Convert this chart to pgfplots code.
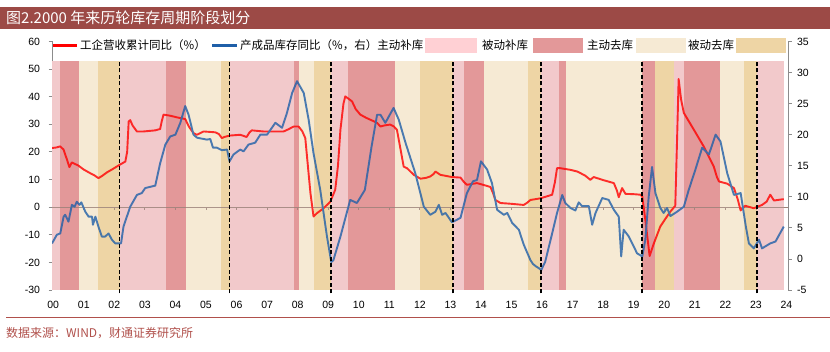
\documentclass[border=0pt]{standalone}
\usepackage{pgfplots}
\pgfplotsset{compat=1.18}
\usepackage{fontspec}
\setmainfont{Liberation Sans}
\newfontfamily\cjk{Noto Sans CJK SC}
\definecolor{bP}{HTML}{F2C9CB}
\definecolor{bD}{HTML}{E39899}
\definecolor{bC}{HTML}{F6EAD4}
\definecolor{bT}{HTML}{EED5A5}
\definecolor{lP}{HTML}{FFD0D4}
\definecolor{titlebar}{HTML}{9C4A46}
\definecolor{srcred}{HTML}{B0504B}
\definecolor{zline}{HTML}{9A8078}
\definecolor{axgray}{HTML}{8C8C8C}
\definecolor{bluel}{HTML}{1F5FA8}
\definecolor{legred}{HTML}{FF0000}
\newcommand{\band}[4]{\addplot[draw=none,fill=#3,forget plot,#4] coordinates {(#1,-30)(#1,53)(#2,53)(#2,-30)} -- cycle;}
\newcommand{\allbands}[1]{%
\band{-0.04}{0.21}{bP}{#1}\band{0.21}{0.85}{bD}{#1}\band{0.85}{1.48}{bC}{#1}\band{1.48}{2.17}{bT}{#1}%
\band{2.17}{3.70}{bP}{#1}\band{3.70}{4.33}{bD}{#1}\band{4.33}{5.50}{bC}{#1}\band{5.50}{5.77}{bT}{#1}%
\band{5.77}{7.87}{bP}{#1}\band{7.87}{8.06}{bD}{#1}\band{8.06}{8.52}{bC}{#1}\band{8.52}{9.10}{bT}{#1}%
\band{9.10}{9.65}{bP}{#1}\band{9.65}{11.20}{bD}{#1}\band{11.20}{12.02}{bC}{#1}\band{12.02}{13.09}{bT}{#1}%
\band{13.09}{13.43}{bP}{#1}\band{13.43}{14.09}{bD}{#1}\band{14.09}{15.53}{bC}{#1}\band{15.53}{15.97}{bT}{#1}%
\band{15.97}{16.57}{bP}{#1}\band{16.57}{16.79}{bD}{#1}\band{16.79}{19.28}{bC}{#1}\band{19.28}{19.68}{bD}{#1}%
\band{19.68}{20.31}{bT}{#1}\band{20.31}{20.66}{bP}{#1}\band{20.66}{21.84}{bD}{#1}\band{21.84}{22.60}{bC}{#1}%
\band{22.60}{23.04}{bT}{#1}\band{23.04}{23.91}{bP}{#1}}
\pgfplotsset{base/.style={scale only axis, width=736bp, height=248.6bp, xmin=-0.04, xmax=24.05,
  at={(52bp,-290bp)}, anchor=south west}}
\begin{document}
\begin{tikzpicture}[x=1bp,y=1bp]
\useasboundingbox (0,0) rectangle (830,-351);
\fill[titlebar] (0,-7) rectangle (830,-29);
\node[anchor=west, text=white, inner sep=0pt, font=\cjk\fontsize{15bp}{15bp}\selectfont] at (6,-18) {图2.2000 年来历轮库存周期阶段划分};
\draw[srcred, line width=1bp] (6,-317) -- (830,-317);
\node[anchor=west, text=srcred, inner sep=0pt, font=\cjk\fontsize{12bp}{12bp}\selectfont] at (6,-333) {数据来源：WIND，财通证券研究所};

\begin{axis}[base, ymin=-30, ymax=60,
  axis y line*=left, axis x line*=bottom,
  x axis line style={draw=none}, xtick style={draw=none},
  xtick={0,...,24},
  xticklabels={00,01,02,03,04,05,06,07,08,09,10,11,12,13,14,15,16,17,18,19,20,21,22,23,24},
  ytick={-30,-20,...,60},
  y axis line style={axgray, line width=0.8bp},
  ytick style={axgray, line width=0.8bp},
  tick align=outside, major tick length=3.5bp,
  ticklabel style={font=\fontsize{10.5bp}{12bp}\selectfont},
  xticklabel style={yshift=-4bp},
  yticklabel style={xshift=-5bp},
  /pgf/number format/assume math mode=true]
\allbands{}
\addplot[zline, line width=0.8bp, forget plot] coordinates {(-0.04,0)(24.05,0)};
\addplot[zline, ycomb, line width=0.8bp, forget plot] coordinates {(1,-1.2)(2,-1.2)(3,-1.2)(4,-1.2)(5,-1.2)(6,-1.2)(7,-1.2)(8,-1.2)(9,-1.2)(10,-1.2)(11,-1.2)(12,-1.2)(13,-1.2)(14,-1.2)(15,-1.2)(16,-1.2)(17,-1.2)(18,-1.2)(19,-1.2)(20,-1.2)(21,-1.2)(22,-1.2)(23,-1.2)};
\addplot[red, line width=1.9bp, line join=round] coordinates {
(-0.04,21.4)(0.1,21.6)(0.23,22)(0.34,20.8)(0.45,17.2)(0.53,14.5)(0.61,16.2)(0.83,15)(1.0,13.6)(1.21,12.3)(1.35,11.5)(1.48,10.5)(1.6,11.3)(1.76,12.6)(1.95,13.8)(2.17,15.3)(2.36,16.5)(2.42,20)(2.47,31)(2.52,31.5)(2.6,29.5)(2.74,27.4)(2.96,27.4)(3.15,27.6)(3.34,27.8)(3.5,28.3)(3.55,31)(3.61,33.5)(3.83,33.1)(4.05,32.5)(4.32,31.9)(4.45,29)(4.59,26.8)(4.7,26.2)(4.92,27.4)(5.3,27.1)(5.42,26.5)(5.52,25)(5.6,25.4)(5.77,25.9)(6.12,26.2)(6.33,25.4)(6.42,27)(6.5,27.8)(6.88,27.4)(7.2,27.4)(7.54,27.4)(7.7,28.2)(7.87,29.2)(8.03,29.2)(8.15,27.5)(8.25,25)(8.36,12)(8.42,5)(8.52,-3.4)(8.63,-2.2)(8.85,-0.4)(9.07,2)(9.23,6.3)(9.32,15)(9.40,28)(9.5,37.5)(9.56,40.1)(9.78,38.3)(9.9,35.5)(10.05,33.5)(10.25,32.3)(10.49,31.1)(10.6,30.5)(10.71,29.2)(10.85,29.6)(11.03,29.9)(11.15,29.2)(11.25,28)(11.35,22)(11.47,14.7)(11.58,14.1)(11.7,12.8)(11.8,11.7)(12.02,10.3)(12.2,10.6)(12.34,11.1)(12.45,12)(12.51,12.9)(12.67,11.7)(13.05,10.9)(13.33,10.7)(13.45,9)(13.54,8.1)(13.87,8.7)(14.1,8)(14.31,7.3)(14.4,5)(14.47,2.6)(14.64,1.5)(15.0,1.2)(15.4,0.8)(15.5,1.5)(15.62,2.6)(15.95,3.2)(16.33,4.5)(16.42,9)(16.49,14.1)(16.6,14.1)(16.93,13.5)(17.15,12.9)(17.4,11.5)(17.58,9.9)(17.69,10.9)(18.0,9.8)(18.35,8.7)(18.45,6)(18.51,3.6)(18.62,6.9)(18.73,4.8)(19.0,4.7)(19.22,4.5)(19.28,3.8)(19.38,-4.6)(19.52,-17.7)(19.66,-13.1)(19.87,-7)(20.05,-4)(20.2,-1.6)(20.36,0.5)(20.42,25)(20.47,46.4)(20.55,39)(20.64,34.1)(20.97,28)(21.29,22)(21.62,14.7)(21.72,11)(21.79,9.3)(22.06,8.5)(22.28,6.9)(22.4,3)(22.5,-1.2)(22.65,0.5)(22.93,-0.4)(23.2,0.8)(23.35,2)(23.47,4.5)(23.59,2.4)(23.91,2.9)};
\end{axis}

\begin{axis}[base, ymin=-5, ymax=35,
  axis y line*=right, axis x line=none,
  ytick={-5,0,...,35},
  y axis line style={axgray, line width=0.8bp},
  ytick style={axgray, line width=0.8bp},
  tick align=outside, major tick length=3.5bp,
  ticklabel style={font=\fontsize{10.5bp}{12bp}\selectfont},
  yticklabel style={xshift=2bp},
  /pgf/number format/assume math mode=true]
\addplot[bluel, line width=1.9bp, line join=round] coordinates {
(-0.04,2.5)(0.12,3.9)(0.23,4.1)(0.34,6.8)(0.39,7.1)(0.5,6)(0.61,8.7)(0.7,8.4)(0.77,9.2)(0.86,8.7)(0.92,9.1)(1.05,7.6)(1.16,6.8)(1.27,6.8)(1.3,5.5)(1.38,6.8)(1.48,5.2)(1.59,3.6)(1.7,3.6)(1.81,4.1)(1.92,3.1)(2.03,2.5)(2.14,2.5)(2.22,2.5)(2.3,5.2)(2.52,8.4)(2.74,10.3)(2.9,10.6)(3.01,11.4)(3.34,11.8)(3.5,15.4)(3.67,18.4)(3.83,19.7)(4.0,20)(4.16,21.9)(4.32,24.6)(4.43,23.2)(4.59,20)(4.71,19.5)(5.03,19.2)(5.14,19.3)(5.23,17.9)(5.36,17.9)(5.52,17.5)(5.69,17.6)(5.77,15.7)(5.9,16.8)(6.12,17.6)(6.23,17.3)(6.39,18.4)(6.61,18.7)(6.78,20)(7.0,20)(7.27,21.9)(7.49,21.1)(7.65,23.5)(7.82,26.7)(7.98,28.6)(8.2,26.7)(8.36,22.4)(8.52,17)(8.74,11.1)(8.96,3.6)(9.1,-0.5)(9.17,-0.2)(9.4,3.6)(9.72,9.5)(9.94,9)(10.2,11.1)(10.42,18.1)(10.6,23.2)(10.71,23.2)(10.87,21.9)(11.14,24.3)(11.31,22.4)(11.53,18.7)(11.85,13.8)(12.13,8.4)(12.34,7.1)(12.51,7.6)(12.62,8.7)(12.73,7.1)(12.84,7.4)(13.05,5.9)(13.33,6.6)(13.54,10.6)(13.74,12.5)(13.87,12.7)(14.0,15.7)(14.2,14.4)(14.36,12.2)(14.53,7.9)(14.75,7.1)(14.86,7.4)(15.02,5.8)(15.24,4.7)(15.4,2.3)(15.62,-0.2)(15.7,-0.8)(15.8,-1.2)(15.9,-1.5)(15.97,-1.8)(16.1,-0.5)(16.33,4.1)(16.49,7.4)(16.66,10.3)(16.76,9)(16.93,8.2)(17.09,7.8)(17.2,9.1)(17.31,8.5)(17.53,8.5)(17.64,5.5)(17.75,7.4)(17.97,9.8)(18.18,9.5)(18.35,7.9)(18.51,6.8)(18.59,0.4)(18.67,4.7)(18.84,3.6)(18.95,2.5)(19.11,0.9)(19.28,0.4)(19.38,3.1)(19.49,10)(19.6,14.8)(19.71,10.6)(19.87,8.2)(19.98,7.4)(20.09,8.2)(20.2,6.9)(20.42,7.6)(20.64,8.4)(20.8,11.1)(21.02,14.4)(21.24,17.9)(21.46,16.8)(21.68,20)(21.84,18.9)(22.06,13.8)(22.28,10.3)(22.5,10.6)(22.67,5.2)(22.77,2.5)(22.93,1.7)(23.1,3.1)(23.2,1.7)(23.47,2.5)(23.64,2.8)(23.91,5.2)};
\end{axis}

\begin{axis}[base, ymin=-30, ymax=60, hide axis, clip=false]
\allbands{opacity=0.2}
\addplot[black, line width=1.8bp, dash pattern=on 4bp off 2.5bp, forget plot] coordinates {(2.17,-31.2)(2.17,53)};
\addplot[black, line width=1.8bp, dash pattern=on 4bp off 2.5bp, forget plot] coordinates {(5.77,-31.2)(5.77,53)};
\addplot[black, line width=1.8bp, dash pattern=on 4bp off 2.5bp, forget plot] coordinates {(9.10,-31.2)(9.10,53)};
\addplot[black, line width=1.8bp, dash pattern=on 4bp off 2.5bp, forget plot] coordinates {(13.09,-31.2)(13.09,53)};
\addplot[black, line width=1.8bp, dash pattern=on 4bp off 2.5bp, forget plot] coordinates {(15.97,-31.2)(15.97,53)};
\addplot[black, line width=1.8bp, dash pattern=on 4bp off 2.5bp, forget plot] coordinates {(19.28,-31.2)(19.28,53)};
\addplot[black, line width=1.8bp, dash pattern=on 4bp off 2.5bp, forget plot] coordinates {(23.04,-31.2)(23.04,53)};
\end{axis}

% legend
\fill[legred] (53,-44.4) rectangle (77,-46.6);
\fill[bluel] (212,-44.4) rectangle (237,-46.6);
\node[anchor=west, inner sep=0pt, font=\cjk\fontsize{11.5bp}{13bp}\selectfont] at (80,-45.5) {工企营收累计同比（\%）};
\node[anchor=west, inner sep=0pt, font=\cjk\fontsize{11.5bp}{13bp}\selectfont] at (240,-45.5) {产成品库存同比（\%，右）主动补库};
\fill[lP] (425,-38) rectangle (477,-52.5);
\node[anchor=west, inner sep=0pt, font=\cjk\fontsize{11.5bp}{13bp}\selectfont] at (482,-45.5) {被动补库};
\fill[bD] (533,-38) rectangle (583,-52.5);
\node[anchor=west, inner sep=0pt, font=\cjk\fontsize{11.5bp}{13bp}\selectfont] at (587,-45.5) {主动去库};
\fill[bC] (636,-38) rectangle (686,-52.5);
\node[anchor=west, inner sep=0pt, font=\cjk\fontsize{11.5bp}{13bp}\selectfont] at (688,-45.5) {被动去库};
\fill[bT] (736,-38) rectangle (786,-52.5);
\end{tikzpicture}
\end{document}
